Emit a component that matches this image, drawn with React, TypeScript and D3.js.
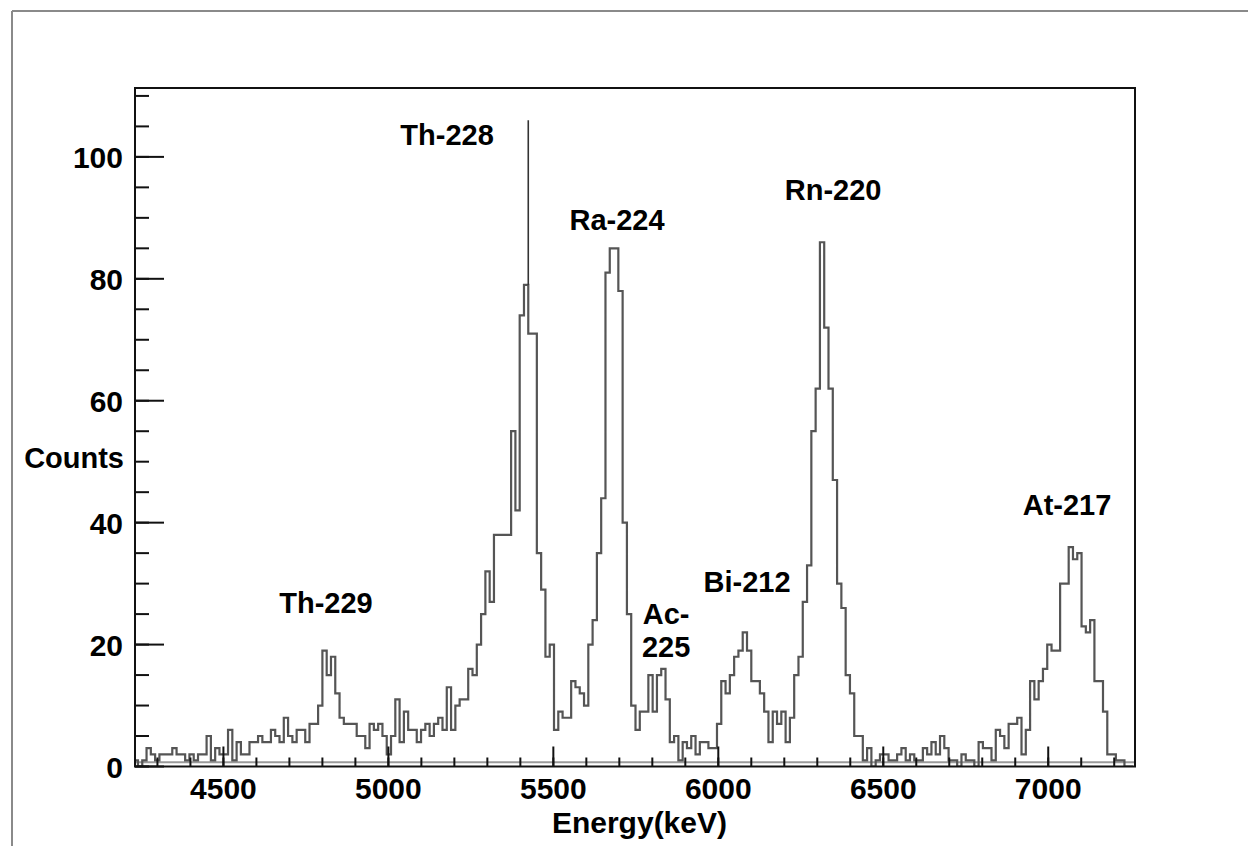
import React from "react";
import * as d3 from "d3";

// ---------- data ----------
const binStart = 4228; // keV, left edge of first bin
const binWidth = 13; // keV
const counts = [
  1, 0, 1, 3, 2, 1, 2, 2, 2, 3,
  2, 2, 1, 2, 1, 2, 2, 5, 1, 3,
  2, 2, 6, 1, 4, 2, 2, 4, 4, 5,
  4, 4, 6, 5, 4, 8, 5, 4, 6, 6,
  4, 7, 7, 10, 19, 15, 18, 12, 8, 7,
  7, 7, 5, 5, 3, 7, 6, 7, 5, 2,
  5, 11, 4, 9, 6, 6, 4, 6, 7, 5,
  7, 8, 6, 13, 6, 10, 11, 11, 16, 15,
  20, 25, 32, 27, 38, 38, 38, 38, 55, 42,
  74, 79, 71, 71, 35, 29, 18, 20, 6, 9,
  8, 8, 14, 13, 12, 10, 20, 24, 35, 44,
  81, 85, 85, 78, 40, 25, 10, 6, 9, 9,
  15, 9, 15, 16, 11, 4, 5, 1, 4, 3,
  5, 2, 4, 4, 3, 3, 7, 14, 12, 15,
  18, 19, 22, 19, 14, 14, 12, 9, 4, 9,
  7, 9, 4, 8, 15, 18, 27, 33, 55, 62,
  86, 72, 62, 47, 30, 26, 15, 12, 5, 5,
  1, 3, 0, 1, 2, 2, 1, 1, 2, 3,
  1, 2, 1, 1, 3, 2, 4, 2, 5, 3,
  1, 1, 0, 2, 1, 1, 0, 4, 3, 3,
  1, 6, 5, 3, 7, 7, 8, 2, 6, 14,
  11, 14, 16, 20, 19, 19, 30, 30, 36, 34,
  35, 23, 22, 24, 14, 14, 9, 2, 2, 1,
  1, 0, 0,
];
const spikeEnergy = [5424];
const spikeCounts = [106];
const refLineCounts = [0.7];

const xMajorTicks = [4500, 5000, 5500, 6000, 6500, 7000];
const xMinorTicks = d3.range(4300, 7201, 100);
const yMajorTicks = [0, 20, 40, 60, 80, 100];
const yMinorTicks = d3.range(0, 111, 5);

const labelTexts = ["Th-228", "Ra-224", "Rn-220", "At-217", "Bi-212", "Ac-", "225", "Th-229"];
const labelEnergy = [5178, 5693, 6348, 7057, 6087, 5842, 5842, 4811];
const labelCounts = [102, 88, 93, 41.3, 28.6, 23.3, 17.9, 25.2];

const xTitle = "Energy(keV)";
const yTitle = "Counts";

// ---------- layout ----------
const W = 1248;
const H = 846;
const left = 135;
const right = 1135;
const top = 88;
const bottom = 766.5;
const FONT = "'Liberation Sans', Arial, Helvetica, sans-serif";

export default function App() {
  const x = d3.scaleLinear().domain([4232, 7263]).range([left, right]);
  const y = d3.scaleLinear().domain([0, 111.3]).range([bottom, top]);

  const pts: [number, number][] = counts.map((c, i) => [binStart + i * binWidth, c]);
  pts.push([binStart + counts.length * binWidth, counts[counts.length - 1]]);
  const line = d3
    .line<[number, number]>()
    .x((d) => x(d[0]))
    .y((d) => y(d[1]))
    .curve(d3.curveStepAfter);
  const histPath = line(pts) || "";

  // spike starts from the level of the bin immediately left of it
  const spikeBase = spikeEnergy.map((e) => {
    const idx = Math.floor((e - binStart) / binWidth) - 1;
    return counts[Math.max(0, idx)];
  });

  const majX = 20, minX = 9;
  const majY = 29, minY = 14;

  return (
    <svg
      width={W}
      height={H}
      style={{ position: "absolute", left: 0, top: 0, background: "#fff" }}
      fontFamily={FONT}
    >
      <defs>
        <clipPath id="frameClip">
          <rect x={left} y={top} width={right - left} height={bottom - top} />
        </clipPath>
      </defs>
      {/* page border */}
      <line x1={12} y1={11} x2={W} y2={11} stroke="#8a8a8a" strokeWidth={2} />
      <line x1={12} y1={11} x2={12} y2={H} stroke="#8a8a8a" strokeWidth={2} />

      {/* reference line near zero */}
      {refLineCounts.map((v, i) => (
        <line key={i} x1={left} x2={right} y1={y(v)} y2={y(v)} stroke="#9a9a9a" strokeWidth={2} />
      ))}

      {/* histogram */}
      <g clipPath="url(#frameClip)">
        <path d={histPath} fill="none" stroke="#555" strokeWidth={2.2} />
        {spikeEnergy.map((e, i) => (
          <line
            key={i}
            x1={x(e)}
            x2={x(e)}
            y1={y(spikeBase[i])}
            y2={y(spikeCounts[i])}
            stroke="#333"
            strokeWidth={1.6}
          />
        ))}
      </g>

      {/* frame */}
      <rect x={left} y={top} width={right - left} height={bottom - top} fill="none" stroke="#111" strokeWidth={2} />

      {/* x ticks */}
      {xMinorTicks.map((t) => (
        <line key={"xm" + t} x1={x(t)} x2={x(t)} y1={bottom} y2={bottom - minX} stroke="#111" strokeWidth={2} />
      ))}
      {xMajorTicks.map((t) => (
        <line key={"xM" + t} x1={x(t)} x2={x(t)} y1={bottom} y2={bottom - majX} stroke="#111" strokeWidth={2} />
      ))}
      {xMajorTicks.map((t) => (
        <text key={"xl" + t} x={x(t)} y={799} textAnchor="middle" fontSize={30} fontWeight="bold" fill="#000">
          {t}
        </text>
      ))}

      {/* y ticks */}
      {yMinorTicks.map((t) => (
        <line key={"ym" + t} x1={left} x2={left + minY} y1={y(t)} y2={y(t)} stroke="#111" strokeWidth={2} />
      ))}
      {yMajorTicks.map((t) => (
        <line key={"yM" + t} x1={left} x2={left + majY} y1={y(t)} y2={y(t)} stroke="#111" strokeWidth={2} />
      ))}
      {yMajorTicks.map((t) => (
        <text key={"yl" + t} x={123} y={y(t) + 11} textAnchor="end" fontSize={30} fontWeight="bold" fill="#000">
          {t}
        </text>
      ))}

      {/* axis titles */}
      <text x={727} y={833} textAnchor="end" fontSize={30} fontWeight="bold" fill="#000">
        {xTitle}
      </text>
      <text x={124} y={468} textAnchor="end" fontSize={29} fontWeight="bold" fill="#000">
        {yTitle}
      </text>

      {/* peak labels */}
      {labelTexts.map((t, i) => (
        <text
          key={"pl" + i}
          x={x(labelEnergy[i])}
          y={y(labelCounts[i])}
          textAnchor="middle"
          fontSize={29}
          fontWeight="bold"
          fill="#000"
        >
          {t}
        </text>
      ))}
    </svg>
  );
}
